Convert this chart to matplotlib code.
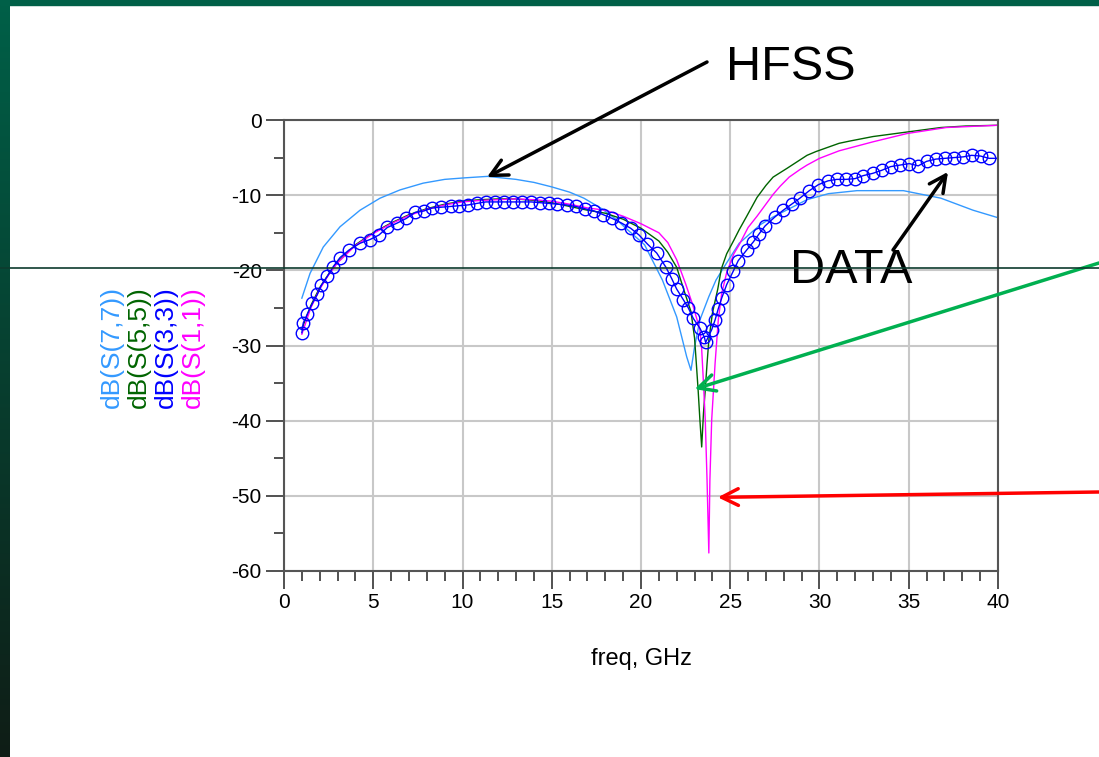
import matplotlib
matplotlib.use("Agg")
import matplotlib.pyplot as plt
import numpy as np
from matplotlib.ticker import MultipleLocator

plt.rcParams['font.family'] = ['Liberation Sans', 'DejaVu Sans']
plt.rcParams['axes.unicode_minus'] = False

# S(7,7) HFSS - light blue
f77 = [1.0, 1.46, 2.2, 3.14, 4.26, 5.38, 6.5, 7.8, 9.0, 10.1, 11.4, 13.0, 14.0, 15.0,
       16.0, 16.8, 17.8, 18.6, 19.2, 20.2, 21.2, 22.0, 22.56, 22.8, 23.0, 23.3, 23.8,
       24.2, 24.8, 25.5, 26.7, 27.4, 29.3, 30.5, 32.1, 34.7, 36.8, 38.6, 40.0]
s77 = [-23.7, -20.4, -16.9, -14.2, -12.0, -10.4, -9.3, -8.4, -7.9, -7.7, -7.5, -7.9, -8.3, -8.9,
       -9.6, -10.4, -11.8, -13.2, -14.5, -16.6, -21.3, -26.2, -31.5, -33.3, -30.2, -26.6, -23.5,
       -21.3, -19.0, -16.4, -13.9, -12.9, -10.6, -9.8, -9.4, -9.4, -10.4, -12.0, -13.0]

# S(5,5) HFSS - dark green
f55 = [1.0, 1.5, 2.0, 2.5, 3.0, 4.0, 5.0, 6.0, 7.0, 8.0, 9.0, 10.0, 11.0, 12.0, 13.0, 14.0,
       15.0, 16.0, 17.0, 18.0, 19.0, 20.0, 21.0, 21.5, 22.0, 22.4, 22.8, 23.0, 23.1, 23.2,
       23.3, 23.4, 23.5, 23.6, 23.7, 23.8, 24.0, 24.3, 24.5, 24.8, 25.2, 25.5, 25.9, 26.5,
       27.0, 27.4, 28.2, 29.3, 29.8, 31.1, 31.7, 33.0, 34.9, 36.8, 38.2, 40.0]
s55 = [-27.8, -24.7, -22.3, -20.5, -18.9, -16.6, -15.0, -13.7, -12.6, -11.8, -11.2, -10.8, -10.6,
       -10.5, -10.5, -10.7, -11.0, -11.5, -12.0, -12.4, -13.2, -14.4, -16.1, -17.6, -19.6, -22.6,
       -25.5, -29.0, -32.4, -35.9, -39.9, -43.5, -39.0, -35.9, -32.4, -29.3, -25.7, -22.5, -19.8,
       -17.8, -16.0, -14.6, -12.9, -10.3, -8.7, -7.6, -6.4, -4.7, -4.2, -3.1, -2.8, -2.2, -1.6,
       -1.0, -0.8, -0.7]

# S(1,1) HFSS - magenta
f11 = [1.0, 1.5, 2.0, 2.5, 3.0, 4.0, 5.0, 6.0, 7.0, 8.0, 9.0, 10.0, 11.0, 12.0, 13.0, 14.0,
       15.0, 16.0, 17.0, 18.0, 19.0, 20.0, 21.0, 21.5, 22.0, 22.5, 22.9, 23.3, 23.4, 23.5,
       23.6, 23.7, 23.8, 23.86, 23.96, 24.15, 24.33, 24.52, 24.8, 25.2, 25.5, 26.0, 26.5,
       27.4, 27.8, 28.3, 28.9, 29.3, 30.0, 31.1, 33.0, 34.9, 37.1, 40.0]
s11 = [-28.5, -25.0, -22.5, -20.6, -19.0, -16.7, -15.1, -13.8, -12.7, -11.9, -11.3, -10.9, -10.7,
       -10.6, -10.5, -10.6, -10.8, -11.2, -11.7, -12.0, -12.8, -13.8, -15.0, -16.3, -18.6, -21.8,
       -24.6, -27.9, -30.5, -35.0, -39.9, -47.9, -57.6, -47.9, -39.9, -32.4, -26.6, -23.1, -20.3,
       -17.8, -16.6, -14.3, -12.8, -9.9, -8.8, -7.6, -6.6, -6.0, -5.1, -4.1, -2.9, -1.8, -1.0,
       -0.7]

# S(3,3) measured DATA - blue circles
f33 = [1.0, 1.08, 1.31, 1.59, 1.87, 2.09, 2.43, 2.76, 3.14, 3.64, 4.26, 4.82, 5.32, 5.79, 6.35,
       6.85, 7.34, 7.84, 8.31, 8.81, 9.34, 9.80, 10.31, 10.79, 11.30, 11.80, 12.32, 12.85, 13.35,
       13.85, 14.34, 14.85, 15.31, 15.84, 16.34, 16.85, 17.37, 17.89, 18.39, 18.90, 19.42, 19.89,
       20.36, 20.88, 21.40, 21.72, 22.00, 22.37, 22.65, 22.93, 23.30, 23.55, 23.62, 23.96, 24.15,
       24.33, 24.52, 24.80, 25.17, 25.45, 25.92, 26.30, 26.60, 26.95, 27.50, 27.97, 28.44, 28.90,
       29.43, 29.94, 30.47, 30.96, 31.48, 31.99, 32.45, 32.98, 33.48, 33.99, 34.50, 35.03, 35.53,
       36.00, 36.52, 37.03, 37.54, 38.06, 38.52, 39.03, 39.50]
s33 = [-28.3, -27.0, -25.8, -24.4, -23.2, -22.0, -20.8, -19.5, -18.3, -17.3, -16.4, -15.9, -15.3,
       -14.3, -13.7, -13.1, -12.3, -12.1, -11.7, -11.6, -11.5, -11.4, -11.3, -11.1, -10.9, -10.9,
       -10.9, -10.9, -10.9, -10.9, -11.0, -11.1, -11.2, -11.3, -11.5, -11.8, -12.1, -12.6, -13.1,
       -13.7, -14.4, -15.3, -16.5, -17.7, -19.6, -21.1, -22.5, -23.9, -25.0, -26.4, -27.7, -28.9,
       -29.6, -27.9, -26.6, -25.1, -23.7, -21.9, -20.1, -18.7, -17.3, -16.2, -15.2, -14.1, -12.9,
       -12.0, -11.2, -10.4, -9.4, -8.6, -8.1, -7.9, -7.9, -7.8, -7.4, -7.1, -6.7, -6.2, -6.0, -5.8,
       -6.1, -5.5, -5.2, -5.1, -5.0, -4.9, -4.7, -4.8, -5.1]

W, H = 1099, 757
fig = plt.figure(figsize=(W / 100, H / 100), dpi=100)
fig.patch.set_facecolor('white')

# slide border: left gradient band and top band
band = fig.add_axes([0, 0, 10 / W, 1])
grad = np.linspace(0, 1, 256).reshape(-1, 1)
cmap = matplotlib.colors.LinearSegmentedColormap.from_list('slide', ['#006048', '#0f1d16'])
band.imshow(grad, aspect='auto', cmap=cmap, extent=[0, 1, 0, 1], origin='upper')
band.axis('off')
fig.patches.append(plt.Rectangle((0, 1 - 5 / H), 1, 5 / H, transform=fig.transFigure,
                                 color='#006048', zorder=5))

ax = fig.add_axes([284 / W, 1 - 571 / H, (998 - 284) / W, (571 - 120) / H])
ax.plot(f77, s77, color='#3399ff', lw=1.0)
ax.plot(f55, s55, color='#006400', lw=1.0)
ax.plot(f11, s11, color='#ff00ff', lw=1.0)
ax.plot(f33 + [40.0], s33 + [-5.1], color='#0000ff', lw=1.0, marker='o', ms=9, mfc='none',
        mec='#0000ff', mew=1.0, markevery=list(range(len(f33))))

ax.set_xlim(0, 40)
ax.set_ylim(-60, 0)
ax.xaxis.set_major_locator(MultipleLocator(5))
ax.xaxis.set_minor_locator(MultipleLocator(1))
ax.yaxis.set_major_locator(MultipleLocator(10))
ax.yaxis.set_minor_locator(MultipleLocator(5))
ax.grid(True, which='major', color='#c8c8c8', lw=1.5)
ax.set_axisbelow(True)
for s in ax.spines.values():
    s.set_color('#555555')
    s.set_linewidth(1.5)
ax.tick_params(which='major', direction='out', length=13, width=1.2, color='#333333',
               labelsize=15, pad=3)
ax.tick_params(which='minor', direction='out', length=7, width=1.2, color='#333333')
ax.set_xlabel('freq, GHz', fontsize=17, labelpad=26)

labels = [('dB(S(7,7))', '#3399ff'), ('dB(S(5,5))', '#006400'),
          ('dB(S(3,3))', '#0000ff'), ('dB(S(1,1))', '#ff00ff')]
for i, (txt, col) in enumerate(labels):
    fig.text((112 + 27 * i) / W, 1 - 347 / H, txt, color=col, rotation=90, fontsize=19,
             ha='center', va='center')

fig.text(791 / W, 1 - 68 / H, 'HFSS', fontsize=35, ha='center', va='center')
fig.text(851 / W, 1 - 270 / H, 'DATA', fontsize=35, ha='center', va='center')

arrow = dict(arrowstyle='->', lw=2.5, mutation_scale=30, shrinkA=0, shrinkB=0)
ax.annotate('', xy=(11.37, -7.6), xytext=(707 / W, 1 - 62 / H), textcoords='figure fraction',
            arrowprops=dict(arrow, color='black'), annotation_clip=False)
ax.annotate('', xy=(37.2, -6.9), xytext=(893 / W, 1 - 250 / H), textcoords='figure fraction',
            arrowprops=dict(arrow, color='black'), annotation_clip=False)
ax.annotate('', xy=(23.0, -35.8), xytext=(1.0, 1 - 263 / H), textcoords='figure fraction',
            arrowprops=dict(arrow, color='#00b050'), annotation_clip=False)
ax.annotate('', xy=(24.3, -50.2), xytext=(1.0, 1 - 492 / H), textcoords='figure fraction',
            arrowprops=dict(arrow, color='#ff0000'), annotation_clip=False)

# slide divider line across the whole picture
fig.add_artist(matplotlib.lines.Line2D([0, 1], [1 - 268 / H, 1 - 268 / H],
                                       transform=fig.transFigure, color='#0d3b2e', lw=1.2,
                                       zorder=10))

fig.savefig('out.png', dpi=100, facecolor='white')
